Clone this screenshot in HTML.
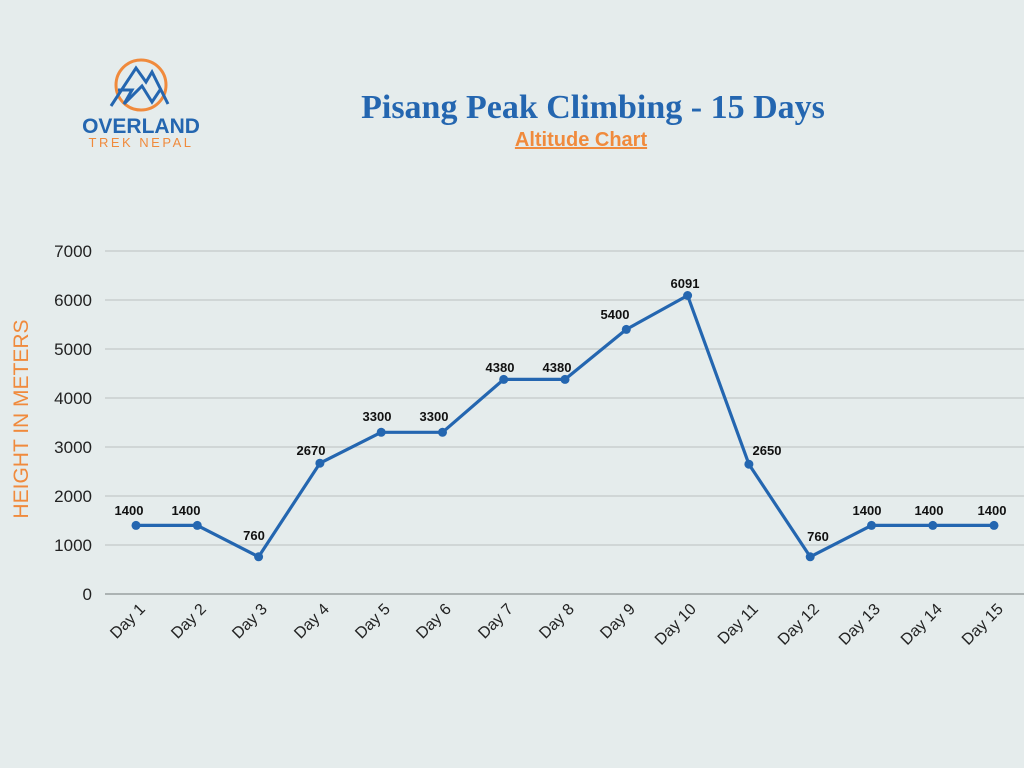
<!DOCTYPE html>
<html><head><meta charset="utf-8"><style>
html,body{margin:0;padding:0;background:#e5ecec;}
svg{display:block;}
</style></head><body>
<svg width="1024" height="768" viewBox="0 0 1024 768" xmlns="http://www.w3.org/2000/svg">
<rect width="1024" height="768" fill="#e5ecec"/>
<!-- logo -->
<circle cx="141" cy="85" r="25" fill="none" stroke="#f08a3c" stroke-width="3"/>
<polyline points="111,106 136,68 146,82 152,72 168,104" fill="none" stroke="#2466b0" stroke-width="3"/>
<polyline points="118,90 132,90 124,104 142,86 152,102 160,90" fill="none" stroke="#2466b0" stroke-width="3"/>
<text x="141" y="133" text-anchor="middle" font-family="Liberation Sans, sans-serif" font-weight="bold" font-size="21" fill="#2466b0">OVERLAND</text>
<text x="141" y="147" text-anchor="middle" font-family="Liberation Sans, sans-serif" font-size="13" letter-spacing="2.5" fill="#f08a3c">TREK NEPAL</text>
<!-- title -->
<text x="593" y="118" text-anchor="middle" font-family="Liberation Serif, serif" font-weight="bold" font-size="34" fill="#2466b0">Pisang Peak Climbing - 15 Days</text>
<text x="581" y="146" text-anchor="middle" font-family="Liberation Sans, sans-serif" font-weight="bold" font-size="20" fill="#f08a3c" text-decoration="underline">Altitude Chart</text>
<!-- grid -->
<g stroke="#c3c9c9" stroke-width="1.2">
<line x1="105" y1="251" x2="1024" y2="251"/><line x1="105" y1="300" x2="1024" y2="300"/>
<line x1="105" y1="349" x2="1024" y2="349"/><line x1="105" y1="398" x2="1024" y2="398"/>
<line x1="105" y1="447" x2="1024" y2="447"/><line x1="105" y1="496" x2="1024" y2="496"/>
<line x1="105" y1="545" x2="1024" y2="545"/>
</g>
<line x1="105" y1="594" x2="1024" y2="594" stroke="#9aa0a0" stroke-width="1.5"/>
<g font-family="Liberation Sans, sans-serif" font-size="17" fill="#222" text-anchor="end">
<text x="92" y="257">7000</text><text x="92" y="306">6000</text><text x="92" y="355">5000</text>
<text x="92" y="404">4000</text><text x="92" y="453">3000</text><text x="92" y="502">2000</text>
<text x="92" y="551">1000</text><text x="92" y="600">0</text>
</g>
<text transform="translate(28,419) rotate(-90)" text-anchor="middle" font-family="Liberation Sans, sans-serif" font-size="21" fill="#f08a3c">HEIGHT IN METERS</text>
<polyline fill="none" stroke="#2466b0" stroke-width="3.2" stroke-linejoin="round" points="136,525.4 197.3,525.4 258.6,556.8 319.9,463.2 381.2,432.3 442.5,432.3 503.7,379.4 565,379.4 626.3,329.4 687.6,295.5 748.9,464.2 810.2,556.8 871.5,525.4 932.8,525.4 994,525.4"/>
<g fill="#2466b0">
<circle cx="136" cy="525.4" r="4.5"/><circle cx="197.3" cy="525.4" r="4.5"/><circle cx="258.6" cy="556.8" r="4.5"/>
<circle cx="319.9" cy="463.2" r="4.5"/><circle cx="381.2" cy="432.3" r="4.5"/><circle cx="442.5" cy="432.3" r="4.5"/>
<circle cx="503.7" cy="379.4" r="4.5"/><circle cx="565" cy="379.4" r="4.5"/><circle cx="626.3" cy="329.4" r="4.5"/>
<circle cx="687.6" cy="295.5" r="4.5"/><circle cx="748.9" cy="464.2" r="4.5"/><circle cx="810.2" cy="556.8" r="4.5"/>
<circle cx="871.5" cy="525.4" r="4.5"/><circle cx="932.8" cy="525.4" r="4.5"/><circle cx="994" cy="525.4" r="4.5"/>
</g>
<g font-family="Liberation Sans, sans-serif" font-weight="bold" font-size="13" fill="#111" text-anchor="middle">
<text x="129" y="515">1400</text><text x="186" y="515">1400</text><text x="254" y="540">760</text>
<text x="311" y="455">2670</text><text x="377" y="421">3300</text><text x="434" y="421">3300</text>
<text x="500" y="372">4380</text><text x="557" y="372">4380</text><text x="615" y="319">5400</text>
<text x="685" y="288">6091</text><text x="767" y="455">2650</text><text x="818" y="541">760</text>
<text x="867" y="515">1400</text><text x="929" y="515">1400</text><text x="992" y="515">1400</text>
</g>
<g font-family="Liberation Sans, sans-serif" font-size="16" fill="#222" text-anchor="end">
<text transform="translate(146,610) rotate(-45)">Day 1</text>
<text transform="translate(207,610) rotate(-45)">Day 2</text>
<text transform="translate(268,610) rotate(-45)">Day 3</text>
<text transform="translate(330,610) rotate(-45)">Day 4</text>
<text transform="translate(391,610) rotate(-45)">Day 5</text>
<text transform="translate(452,610) rotate(-45)">Day 6</text>
<text transform="translate(514,610) rotate(-45)">Day 7</text>
<text transform="translate(575,610) rotate(-45)">Day 8</text>
<text transform="translate(636,610) rotate(-45)">Day 9</text>
<text transform="translate(697,610) rotate(-45)">Day 10</text>
<text transform="translate(759,610) rotate(-45)">Day 11</text>
<text transform="translate(820,610) rotate(-45)">Day 12</text>
<text transform="translate(881,610) rotate(-45)">Day 13</text>
<text transform="translate(943,610) rotate(-45)">Day 14</text>
<text transform="translate(1004,610) rotate(-45)">Day 15</text>
</g>
</svg>
</body></html>
